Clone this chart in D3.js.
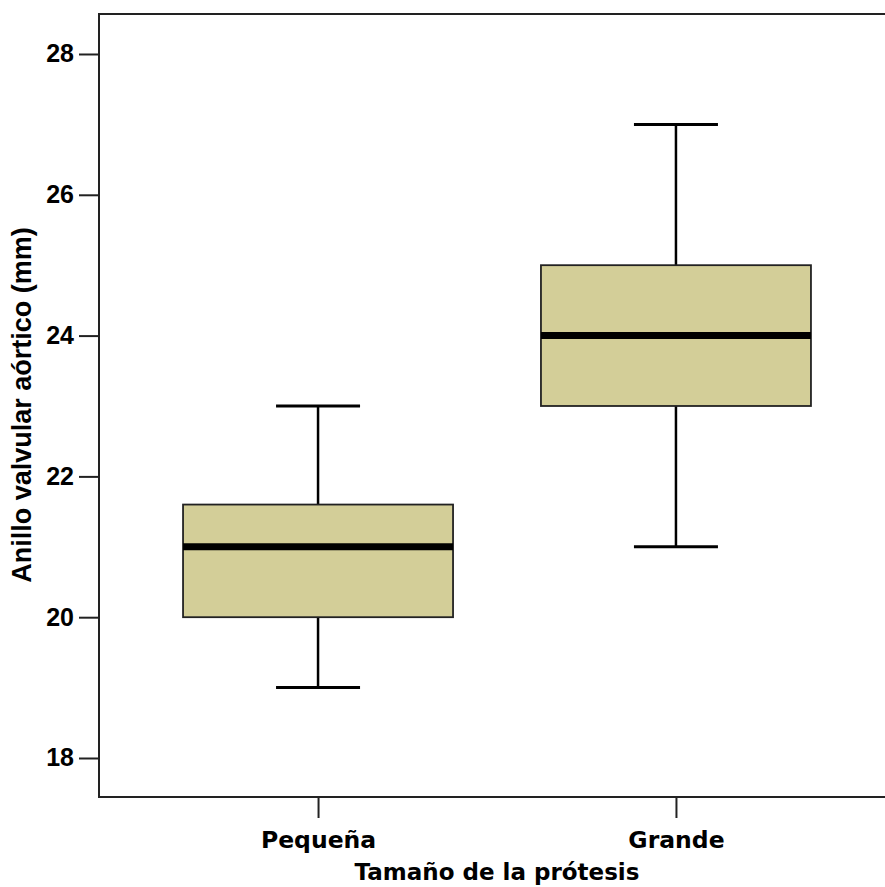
<!DOCTYPE html>
<html>
<head>
<meta charset="utf-8">
<script src="https://cdn.jsdelivr.net/npm/d3@7"></script>
<style>
  html, body { margin: 0; padding: 0; background: #fff; overflow: hidden; }
  svg { display: block; }
</style>
</head>
<body>
<script>
// ---- data ----
const categories = ["Pequeña", "Grande"];
const whiskerLow  = [19, 21];
const quartile1   = [20, 23];
const medians     = [21, 24];
const quartile3   = [21.6, 25];
const whiskerHigh = [23, 27];
const yTicks = [18, 20, 22, 24, 26, 28];
const xTitle = "Tamaño de la prótesis";
const yTitle = "Anillo valvular aórtico (mm)";

const W = 885, H = 887;
const mLeft = 99, mRight = 895, mTop = 14, mBottom = 797;

const svg = d3.select("body").append("svg").attr("width", W).attr("height", H);

const y = d3.scaleLinear().domain([17.446, 28.568]).range([mBottom, mTop]);
const x = d3.scalePoint().domain(categories).range([mLeft, mRight]).padding(0.612);

const boxW = 270, capW = 84;

// frame (left, top, bottom; the right side is outside the picture)
svg.append("path")
  .attr("d", `M${W + 5},${mTop}H${mLeft}V${mBottom}H${W + 5}`)
  .attr("fill", "none").attr("stroke", "#222").attr("stroke-width", 2);

// y axis
const yAxis = svg.append("g").attr("transform", `translate(${mLeft},0)`)
  .call(d3.axisLeft(y).tickValues(yTicks).tickSize(20).tickPadding(5).tickFormat(d3.format("d")));
yAxis.select(".domain").remove();
yAxis.selectAll(".tick line").attr("stroke", "#222").attr("stroke-width", 2);
yAxis.selectAll(".tick text")
  .attr("font-family", "'Liberation Sans', Arial, sans-serif")
  .attr("font-weight", "bold").attr("font-size", 25).attr("fill", "#000");

// x axis
const xAxis = svg.append("g").attr("transform", `translate(0,${mBottom})`)
  .call(d3.axisBottom(x).tickSize(21).tickPadding(13));
xAxis.select(".domain").remove();
xAxis.selectAll(".tick line").attr("stroke", "#222").attr("stroke-width", 2);
xAxis.selectAll(".tick text")
  .attr("font-family", "'DejaVu Sans', Verdana, sans-serif")
  .attr("font-weight", "bold").attr("font-size", 23.5).attr("fill", "#000");

// titles
svg.append("text")
  .attr("x", (mLeft + mRight) / 2).attr("y", 880)
  .attr("text-anchor", "middle")
  .attr("font-family", "'DejaVu Sans', Verdana, sans-serif")
  .attr("font-weight", "bold").attr("font-size", 23).attr("fill", "#000")
  .text(xTitle);

svg.append("text")
  .attr("transform", `translate(31,405) rotate(-90)`)
  .attr("text-anchor", "middle")
  .attr("font-family", "'Liberation Sans', Arial, sans-serif")
  .attr("font-weight", "bold").attr("font-size", 27).attr("fill", "#000")
  .text(yTitle);

// boxes
categories.forEach((c, i) => {
  const cx = x(c);
  const g = svg.append("g");
  g.append("line").attr("x1", cx).attr("x2", cx)
    .attr("y1", y(quartile3[i])).attr("y2", y(whiskerHigh[i]))
    .attr("stroke", "#000").attr("stroke-width", 2.5);
  g.append("line").attr("x1", cx).attr("x2", cx)
    .attr("y1", y(quartile1[i])).attr("y2", y(whiskerLow[i]))
    .attr("stroke", "#000").attr("stroke-width", 2.5);
  [whiskerHigh[i], whiskerLow[i]].forEach(v => {
    g.append("line").attr("x1", cx - capW / 2).attr("x2", cx + capW / 2)
      .attr("y1", y(v)).attr("y2", y(v))
      .attr("stroke", "#000").attr("stroke-width", 3);
  });
  g.append("rect")
    .attr("x", cx - boxW / 2).attr("width", boxW)
    .attr("y", y(quartile3[i])).attr("height", y(quartile1[i]) - y(quartile3[i]))
    .attr("fill", "#D3CE98").attr("stroke", "#222").attr("stroke-width", 1.8);
  g.append("line").attr("x1", cx - boxW / 2).attr("x2", cx + boxW / 2)
    .attr("y1", y(medians[i])).attr("y2", y(medians[i]))
    .attr("stroke", "#000").attr("stroke-width", 7);
});
</script>
</body>
</html>
